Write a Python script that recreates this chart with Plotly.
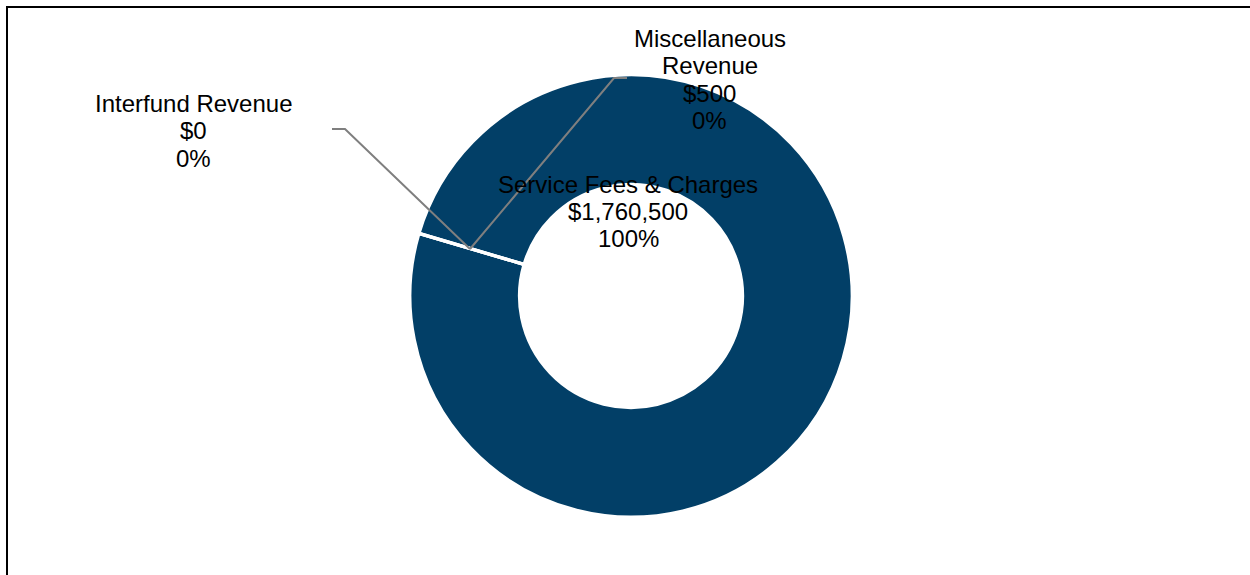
import plotly.graph_objects as go

# ---- data ----
categories = ["Service Fees & Charges", "Interfund Revenue", "Miscellaneous Revenue"]
display_lines = [["Service Fees & Charges"], ["Interfund Revenue"], ["Miscellaneous", "Revenue"]]
values = [1760500, 0, 500]

W, H = 1250, 575
total = sum(values)

def px(x):
    return x / W

def py(y):
    return 1 - y / H

# donut geometry (pixels)
cx, cy, R = 631, 296, 221

fig = go.Figure(go.Pie(
    labels=categories,
    values=values,
    sort=False,
    direction="clockwise",
    rotation=286.5,
    hole=0.505,
    textinfo="none",
    hoverinfo="label+value+percent",
    marker=dict(colors=["#023F67", "#023F67", "#023F67"], line=dict(color="white", width=3)),
    domain=dict(x=[px(cx - R), px(cx + R)], y=[py(cy + R), py(cy - R)]),
    showlegend=False,
))

# label placement (pixel centers of first line)
label_pos = {
    "Service Fees & Charges": (628, 184),
    "Interfund Revenue": (193, 103),
    "Miscellaneous Revenue": (710, 38),
}
step = 27.5
annotations = []
for cat, lines, v in zip(categories, display_lines, values):
    pct = 100 * v / total
    all_lines = lines + [f"${v:,}", f"{pct:.0f}%"]
    x0, y0 = label_pos[cat]
    for i, t in enumerate(all_lines):
        annotations.append(dict(
            x=px(x0), y=py(y0 + i * step), xref="paper", yref="paper",
            text=t, showarrow=False, xanchor="center", yanchor="middle",
            font=dict(family="Liberation Sans, Arial", size=24, color="black"),
        ))

shapes = [
    # leader lines
    dict(type="path", xref="paper", yref="paper",
         path=f"M {px(332)} {py(129)} L {px(345)} {py(129)} L {px(470)} {py(249)}",
         line=dict(color="#7F7F7F", width=2)),
    dict(type="path", xref="paper", yref="paper",
         path=f"M {px(470)} {py(249)} L {px(614)} {py(78)} L {px(627)} {py(78)}",
         line=dict(color="#7F7F7F", width=2)),
    # chart border (top & left visible)
    dict(type="line", xref="paper", yref="paper", x0=px(6), y0=py(7), x1=1, y1=py(7),
         line=dict(color="black", width=2)),
    dict(type="line", xref="paper", yref="paper", x0=px(7), y0=py(6), x1=px(7), y1=0,
         line=dict(color="black", width=2)),
]

fig.update_layout(
    width=W, height=H,
    margin=dict(l=0, r=0, t=0, b=0),
    paper_bgcolor="white", plot_bgcolor="white",
    annotations=annotations,
    shapes=shapes,
)

fig.write_html("out.html")
